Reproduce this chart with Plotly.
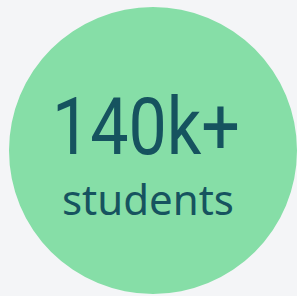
import plotly.graph_objects as go

# Content
headline = ["140k+"]
caption = ["students"]

BG = "#f4f5f7"
GREEN = "#86dea7"
INK = "#16535f"

fig = go.Figure()

fig.add_shape(type="circle", xref="x", yref="y",
              x0=9, y0=7, x1=297, y1=294,
              fillcolor=GREEN, line=dict(width=0), layer="below")

fig.add_trace(go.Scatter(x=[146], y=[134], mode="text", text=headline,
                         textfont=dict(family="Roboto", size=80, color=INK),
                         hoverinfo="skip", showlegend=False))
fig.add_trace(go.Scatter(x=[148], y=[204], mode="text", text=caption,
                         textfont=dict(family="Noto Sans", size=42, color=INK),
                         hoverinfo="skip", showlegend=False))

fig.update_xaxes(range=[0, 297], visible=False, fixedrange=True)
fig.update_yaxes(range=[296, 0], visible=False, fixedrange=True)
fig.update_layout(width=297, height=296, margin=dict(l=0, r=0, t=0, b=0),
                  paper_bgcolor=BG, plot_bgcolor=BG)

post = (
    "document.body.style.margin='0';"
    "document.body.style.background='%s';"
    "var t=document.querySelectorAll('.textpoint text');"
    "if(t.length){t[0].setAttribute('textLength','188');"
    "t[0].setAttribute('lengthAdjust','spacingAndGlyphs');}" % BG
)
fig.write_html("out.html", config={"displayModeBar": False}, post_script=post)
